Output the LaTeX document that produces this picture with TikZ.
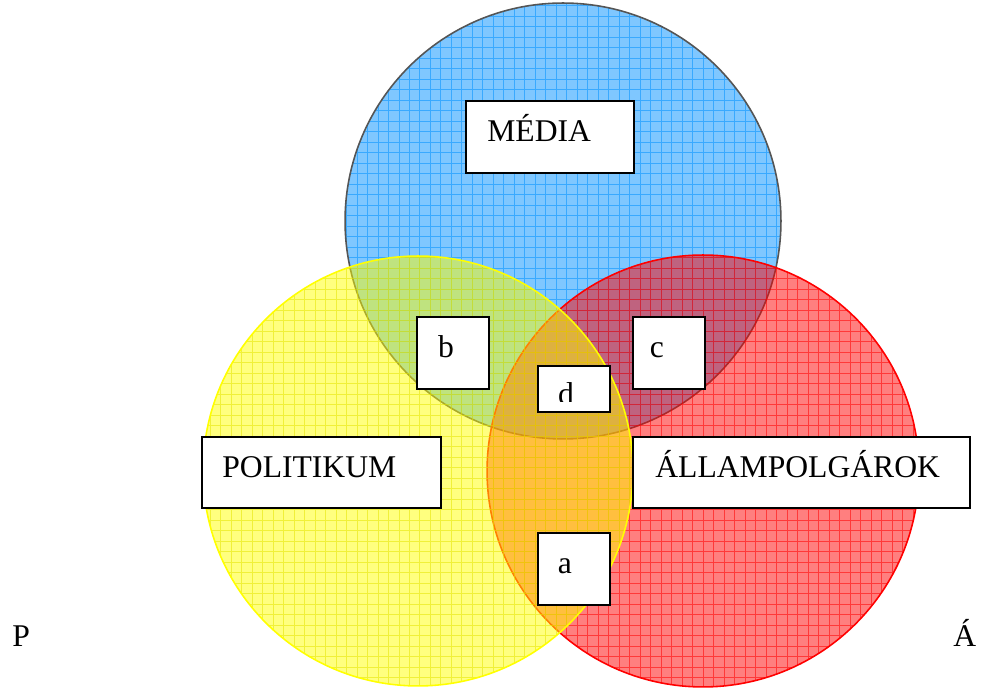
\documentclass[tikz,border=0pt]{standalone}
\usepackage{fontspec}
\setmainfont{Liberation Serif}
\usepackage{tikz}
\usetikzlibrary{positioning}
\definecolor{mediablue}{RGB}{0,144,255}
\definecolor{polyellow}{RGB}{255,255,0}
\definecolor{allred}{RGB}{255,0,0}
\definecolor{rimgray}{RGB}{85,85,85}

\begin{document}
\begin{tikzpicture}[x=0.02cm,y=0.02cm,
    box/.style={draw=black,line width=1.2pt,fill=white,inner sep=0pt},
    lbl/.style={font=\fontsize{18}{20}\selectfont,inner sep=0pt},
    hatch/.style={line width=0.5pt,opacity=0.55}]
  \useasboundingbox (0,0) rectangle (982,688);

  \coordinate (cmedia) at (563,467);
  \coordinate (cpol) at (418,217);
  \coordinate (call) at (703,217);

  % media
  \begin{scope}
    \clip (cmedia) circle (4.36cm);
    \fill[mediablue,opacity=0.5] (cmedia) circle (4.36cm);
    \draw[mediablue,hatch,step=0.21cm] (340,240) grid (790,690);
  \end{scope}
  \draw[rimgray,line width=0.9pt] (cmedia) circle (4.36cm);

  % allampolgarok
  \begin{scope}
    \clip (call) circle (4.32cm);
    \fill[allred,opacity=0.5] (call) circle (4.32cm);
    \draw[allred,hatch,step=0.21cm] (480,-10) grid (930,440);
  \end{scope}
  \draw[allred,line width=0.9pt] (call) circle (4.32cm);

  % politikum
  \begin{scope}
    \clip (cpol) circle (4.3cm);
    \fill[polyellow,opacity=0.5] (cpol) circle (4.3cm);
    \draw[polyellow!90!black,hatch,step=0.21cm] (195,-10) grid (640,440);
  \end{scope}
  \draw[polyellow,line width=0.9pt] (cpol) circle (4.3cm);

  \node (mediabox) [box,minimum width=3.36cm,minimum height=1.44cm] at (550,551) {};
  \node (media) [lbl,anchor=base west] at (487,546) {MÉDIA};

  \node (bbox) [box,minimum width=1.44cm,minimum height=1.44cm] at (453,335) {};
  \node (b) [lbl,anchor=base] at (446,330) {b};

  \node (cbox) [box,minimum width=1.44cm,minimum height=1.44cm] at (669,335) {};
  \node (c) [lbl,anchor=base] at (657,330) {c};

  \node (dbox) [box,minimum width=1.44cm,minimum height=0.92cm] at (574,299) {};
  \begin{scope}
    \clip (540,286) rectangle (608,320);
    \node (d) [lbl,anchor=base] at (566,283) {d};
  \end{scope}

  \node (polbox) [box,minimum width=4.78cm,minimum height=1.42cm] at (321.5,215.5) {};
  \node (pol) [lbl,anchor=base west] at (222,210) {POLITIKUM};

  \node (allbox) [box,minimum width=6.74cm,minimum height=1.42cm] at (801.5,215.5) {};
  \node (all) [lbl,anchor=base west] at (655,210) {ÁLLAMPOLGÁROK};

  \node (abox) [box,minimum width=1.44cm,minimum height=1.44cm] at (574,119) {};
  \node (a) [lbl,anchor=base] at (565,114) {a};

  \node (p) [lbl,anchor=base west] at (12,41) {P};
  \node (aa) [lbl,anchor=base west] at (953,41) {Á};
\end{tikzpicture}
\end{document}
